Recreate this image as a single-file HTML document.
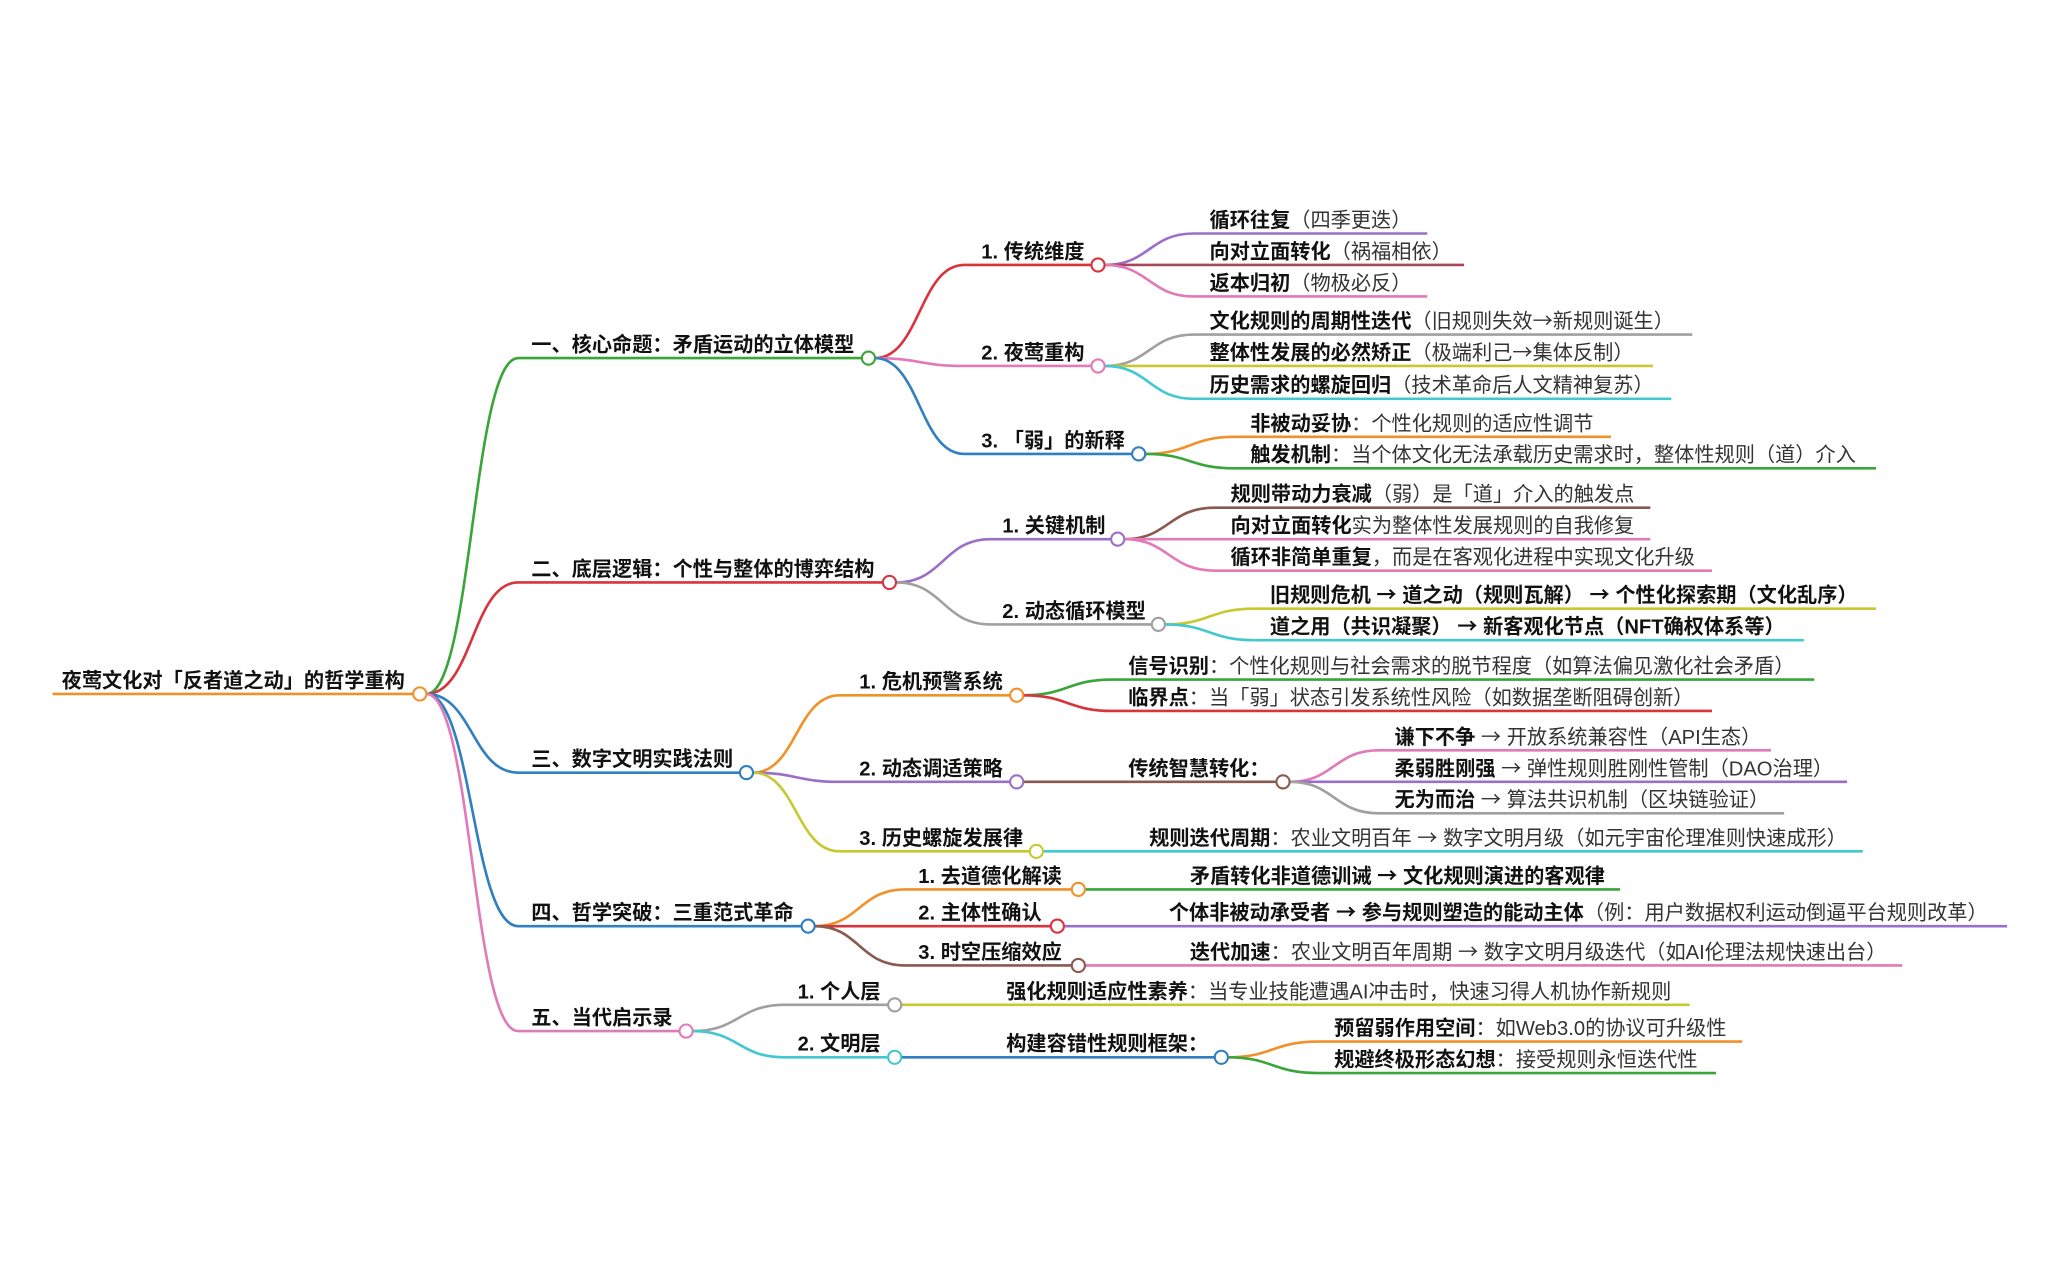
<!DOCTYPE html>
<html><head><meta charset="utf-8"><style>
html,body{margin:0;padding:0;background:#fff;width:2057px;height:1279px;overflow:hidden}
svg text{font-family:"Liberation Sans","Noto Sans CJK SC",sans-serif;font-size:15.4px;fill:#333}
.b{font-weight:bold;fill:#111}
.a{font-family:"Noto Sans CJK SC",sans-serif}
path{fill:none;stroke-width:2}
circle{fill:#fff;stroke-width:1.6}
</style></head><body>
<svg width="2057" height="1279" viewBox="0 0 1568 975" preserveAspectRatio="none" xmlns="http://www.w3.org/2000/svg">
<path d="M40 529 L315 529" stroke="#f0912a"/>
<path d="M325 529 C360 529 360 273 395 273 L657 273" stroke="#3aa63a"/>
<path d="M325 529 C360 529 360 444 395 444 L673 444" stroke="#d8343e"/>
<path d="M325 529 C360 529 360 589 395 589 L564 589" stroke="#2f7fc1"/>
<path d="M325 529 C360 529 360 706 395 706 L611 706" stroke="#2f7fc1"/>
<path d="M325 529 C360 529 360 786 395 786 L518 786" stroke="#e07ab8"/>
<path d="M667 273 C701 273 701 202 735 202 L832 202" stroke="#d8343e"/>
<path d="M667 273 C701 273 701 279 735 279 L832 279" stroke="#e07ab8"/>
<path d="M667 273 C701 273 701 346 735 346 L863 346" stroke="#2f7fc1"/>
<path d="M683 444 C719 444 719 411 755 411 L847 411" stroke="#9b6fc8"/>
<path d="M683 444 C719 444 719 476 755 476 L878 476" stroke="#a0a0a0"/>
<path d="M574 589 C607 589 607 530 640 530 L770 530" stroke="#f0912a"/>
<path d="M574 589 C607 589 607 596 640 596 L770 596" stroke="#9b6fc8"/>
<path d="M574 589 C607 589 607 649 640 649 L785 649" stroke="#c8c832"/>
<path d="M621 706 C655 706 655 678 690 678 L817 678" stroke="#f0912a"/>
<path d="M621 706 C655 706 655 706 690 706 L801 706" stroke="#d8343e"/>
<path d="M621 706 C655 706 655 736 690 736 L817 736" stroke="#8a5a50"/>
<path d="M528 786 C563 786 563 766 598 766 L677 766" stroke="#a0a0a0"/>
<path d="M528 786 C563 786 563 806 598 806 L677 806" stroke="#44c8d0"/>
<path d="M842 202 C876 202 876 178 910 178 L1088 178" stroke="#9b6fc8"/>
<path d="M842 202 L1116 202" stroke="#a8485a"/>
<path d="M842 202 C876 202 876 226 910 226 L1088 226" stroke="#e07ab8"/>
<path d="M842 279 C876 279 876 255 910 255 L1290 255" stroke="#a0a0a0"/>
<path d="M842 279 L1260 279" stroke="#c8c832"/>
<path d="M842 279 C876 279 876 304 910 304 L1274 304" stroke="#44c8d0"/>
<path d="M873 346 C907 346 907 333 941 333 L1228 333" stroke="#f0912a"/>
<path d="M873 346 C907 346 907 357 941 357 L1430 357" stroke="#3aa63a"/>
<path d="M857 411 C891 411 891 387 926 387 L1258 387" stroke="#8a5a50"/>
<path d="M857 411 L1258 411" stroke="#e07ab8"/>
<path d="M857 411 C891 411 891 435 926 435 L1305 435" stroke="#e07ab8"/>
<path d="M888 476 C922 476 922 464 956 464 L1430 464" stroke="#c8c832"/>
<path d="M888 476 C922 476 922 488 956 488 L1375 488" stroke="#44c8d0"/>
<path d="M780 530 C814 530 814 518 848 518 L1383 518" stroke="#3aa63a"/>
<path d="M780 530 C814 530 814 542 848 542 L1305 542" stroke="#d8343e"/>
<path d="M780 596 L973 596" stroke="#8a5a50"/>
<path d="M983 596 C1017 596 1017 572 1051 572 L1350 572" stroke="#e07ab8"/>
<path d="M983 596 L1408 596" stroke="#9b6fc8"/>
<path d="M983 596 C1017 596 1017 620 1051 620 L1360 620" stroke="#a0a0a0"/>
<path d="M795 649 L1420 649" stroke="#44c8d0"/>
<path d="M827 678 L1235 678" stroke="#3aa63a"/>
<path d="M811 706 L1530 706" stroke="#9b6fc8"/>
<path d="M827 736 L1450 736" stroke="#e07ab8"/>
<path d="M687 766 L1288 766" stroke="#c8c832"/>
<path d="M687 806 L926 806" stroke="#2f7fc1"/>
<path d="M936 806 C970 806 970 794 1005 794 L1328 794" stroke="#f0912a"/>
<path d="M936 806 C970 806 970 818 1005 818 L1308 818" stroke="#3aa63a"/>
<circle cx="320" cy="529" r="5" stroke="#f0912a"/>
<circle cx="662" cy="273" r="5" stroke="#3aa63a"/>
<circle cx="678" cy="444" r="5" stroke="#d8343e"/>
<circle cx="569" cy="589" r="5" stroke="#2f7fc1"/>
<circle cx="616" cy="706" r="5" stroke="#2f7fc1"/>
<circle cx="523" cy="786" r="5" stroke="#e07ab8"/>
<circle cx="837" cy="202" r="5" stroke="#d8343e"/>
<circle cx="837" cy="279" r="5" stroke="#e07ab8"/>
<circle cx="868" cy="346" r="5" stroke="#2f7fc1"/>
<circle cx="852" cy="411" r="5" stroke="#9b6fc8"/>
<circle cx="883" cy="476" r="5" stroke="#a0a0a0"/>
<circle cx="775" cy="530" r="5" stroke="#f0912a"/>
<circle cx="775" cy="596" r="5" stroke="#9b6fc8"/>
<circle cx="790" cy="649" r="5" stroke="#c8c832"/>
<circle cx="978" cy="596" r="5" stroke="#8a5a50"/>
<circle cx="822" cy="678" r="5" stroke="#f0912a"/>
<circle cx="806" cy="706" r="5" stroke="#d8343e"/>
<circle cx="822" cy="736" r="5" stroke="#8a5a50"/>
<circle cx="682" cy="766" r="5" stroke="#a0a0a0"/>
<circle cx="682" cy="806" r="5" stroke="#44c8d0"/>
<circle cx="931" cy="806" r="5" stroke="#2f7fc1"/>
<text x="47" y="524" class="b">夜莺文化对「反者道之动」的哲学重构</text>
<text x="405" y="268" class="b">一、核心命题：矛盾运动的立体模型</text>
<text x="405" y="439" class="b">二、底层逻辑：个性与整体的博弈结构</text>
<text x="405" y="584" class="b">三、数字文明实践法则</text>
<text x="405" y="701" class="b">四、哲学突破：三重范式革命</text>
<text x="405" y="781" class="b">五、当代启示录</text>
<text x="748" y="197" class="b">1. 传统维度</text>
<text x="748" y="274" class="b">2. 夜莺重构</text>
<text x="748" y="341" class="b">3. 「弱」的新释</text>
<text x="764" y="406" class="b">1. 关键机制</text>
<text x="764" y="471" class="b">2. 动态循环模型</text>
<text x="655" y="525" class="b">1. 危机预警系统</text>
<text x="655" y="591" class="b">2. 动态调适策略</text>
<text x="655" y="644" class="b">3. 历史螺旋发展律</text>
<text x="700" y="673" class="b">1. 去道德化解读</text>
<text x="700" y="701" class="b">2. 主体性确认</text>
<text x="700" y="731" class="b">3. 时空压缩效应</text>
<text x="608" y="761" class="b">1. 个人层</text>
<text x="608" y="801" class="b">2. 文明层</text>
<text x="922" y="173"><tspan class="b">循环往复</tspan>（四季更迭）</text>
<text x="922" y="197"><tspan class="b">向对立面转化</tspan>（祸福相依）</text>
<text x="922" y="221"><tspan class="b">返本归初</tspan>（物极必反）</text>
<text x="922" y="250"><tspan class="b">文化规则的周期性迭代</tspan>（旧规则失效<tspan class="a">→</tspan>新规则诞生）</text>
<text x="922" y="274"><tspan class="b">整体性发展的必然矫正</tspan>（极端利己<tspan class="a">→</tspan>集体反制）</text>
<text x="922" y="299"><tspan class="b">历史需求的螺旋回归</tspan>（技术革命后人文精神复苏）</text>
<text x="953" y="328"><tspan class="b">非被动妥协</tspan>：个性化规则的适应性调节</text>
<text x="953" y="352"><tspan class="b">触发机制</tspan>：当个体文化无法承载历史需求时，整体性规则（道）介入</text>
<text x="938" y="382"><tspan class="b">规则带动力衰减</tspan>（弱）是「道」介入的触发点</text>
<text x="938" y="406"><tspan class="b">向对立面转化</tspan>实为整体性发展规则的自我修复</text>
<text x="938" y="430"><tspan class="b">循环非简单重复</tspan>，而是在客观化进程中实现文化升级</text>
<text x="968" y="459" class="b">旧规则危机 <tspan class="a">→</tspan> 道之动（规则瓦解） <tspan class="a">→</tspan> 个性化探索期（文化乱序）</text>
<text x="968" y="483" class="b">道之用（共识凝聚） <tspan class="a">→</tspan> 新客观化节点（NFT确权体系等）</text>
<text x="860" y="513"><tspan class="b">信号识别</tspan>：个性化规则与社会需求的脱节程度（如算法偏见激化社会矛盾）</text>
<text x="860" y="537"><tspan class="b">临界点</tspan>：当「弱」状态引发系统性风险（如数据垄断阻碍创新）</text>
<text x="860" y="591" class="b">传统智慧转化：</text>
<text x="1063" y="567"><tspan class="b">谦下不争</tspan> <tspan class="a">→</tspan> 开放系统兼容性（API生态）</text>
<text x="1063" y="591"><tspan class="b">柔弱胜刚强</tspan> <tspan class="a">→</tspan> 弹性规则胜刚性管制（DAO治理）</text>
<text x="1063" y="615"><tspan class="b">无为而治</tspan> <tspan class="a">→</tspan> 算法共识机制（区块链验证）</text>
<text x="876" y="644"><tspan class="b">规则迭代周期</tspan>：农业文明百年 <tspan class="a">→</tspan> 数字文明月级（如元宇宙伦理准则快速成形）</text>
<text x="907" y="673" class="b">矛盾转化非道德训诫 <tspan class="a">→</tspan> 文化规则演进的客观律</text>
<text x="891" y="701"><tspan class="b">个体非被动承受者 <tspan class="a">→</tspan> 参与规则塑造的能动主体</tspan>（例：用户数据权利运动倒逼平台规则改革）</text>
<text x="907" y="731"><tspan class="b">迭代加速</tspan>：农业文明百年周期 <tspan class="a">→</tspan> 数字文明月级迭代（如AI伦理法规快速出台）</text>
<text x="767" y="761"><tspan class="b">强化规则适应性素养</tspan>：当专业技能遭遇AI冲击时，快速习得人机协作新规则</text>
<text x="767" y="801" class="b">构建容错性规则框架：</text>
<text x="1017" y="789"><tspan class="b">预留弱作用空间</tspan>：如Web3.0的协议可升级性</text>
<text x="1017" y="813"><tspan class="b">规避终极形态幻想</tspan>：接受规则永恒迭代性</text>
</svg>
</body></html>
